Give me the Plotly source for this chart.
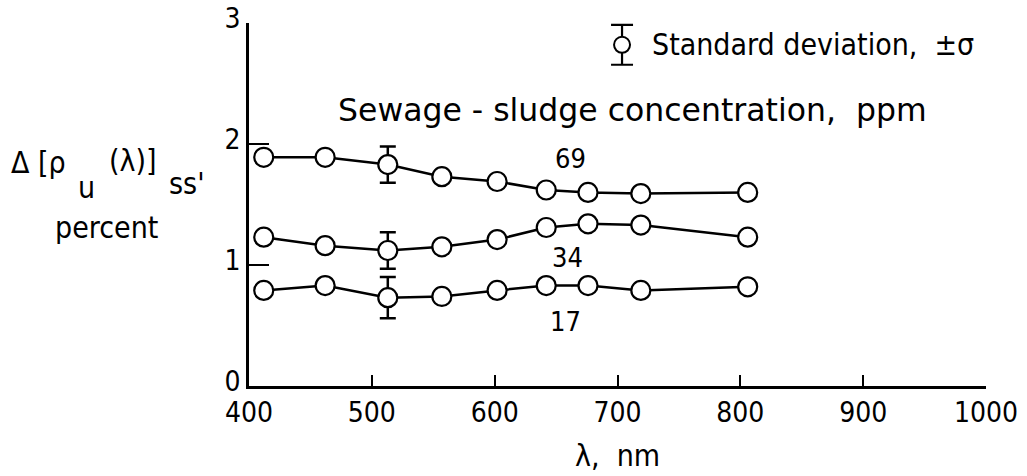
import plotly.graph_objects as go

# Wavelengths, nm
wavelength = [412, 462, 513, 557, 602, 642, 676, 719, 806]

# Change in upwelled reflectance, percent, per sewage-sludge concentration
refl_69 = [1.89, 1.89, 1.83, 1.73, 1.69, 1.62, 1.60, 1.59, 1.60]
refl_34 = [1.23, 1.16, 1.12, 1.15, 1.21, 1.31, 1.34, 1.33, 1.23]
refl_17 = [0.79, 0.83, 0.73, 0.74, 0.79, 0.83, 0.83, 0.79, 0.82]

# Standard deviation shown at 513 nm
sd_index = 2
sd_69 = 0.15
sd_34 = 0.15
sd_17 = 0.17

x_ticks = [400, 500, 600, 700, 800, 900, 1000]
y_ticks = [0, 1, 2, 3]

FONT = "DejaVu Sans Condensed, DejaVu Sans, sans-serif"
WIDE = "DejaVu Sans, sans-serif"
INK = "black"

W, H = 1027, 476
L, R, T, B = 249, 41, 23, 90

fig = go.Figure()


def add_series(values, sd):
    fig.add_trace(go.Scatter(
        x=wavelength, y=values, mode="lines",
        line=dict(color=INK, width=2.5), showlegend=False, hoverinfo="skip"))
    fig.add_trace(go.Scatter(
        x=[wavelength[sd_index]], y=[values[sd_index]], mode="markers",
        error_y=dict(type="data", array=[sd], visible=True,
                     color=INK, thickness=2.5, width=8),
        marker=dict(size=1, color=INK), showlegend=False, hoverinfo="skip"))
    fig.add_trace(go.Scatter(
        x=wavelength, y=values, mode="markers",
        marker=dict(symbol="circle", size=19, color="white",
                    line=dict(color=INK, width=2.2)),
        showlegend=False))


add_series(refl_69, sd_69)
add_series(refl_34, sd_34)
add_series(refl_17, sd_17)

# Key for the standard-deviation symbol
key_x, key_y, key_sd = 703.7, 2.82, 0.165
fig.add_trace(go.Scatter(
    x=[key_x], y=[key_y], mode="markers",
    error_y=dict(type="data", array=[key_sd], visible=True,
                 color=INK, thickness=2.2, width=11),
    marker=dict(symbol="circle", size=16, color="white",
                line=dict(color=INK, width=2)),
    showlegend=False, hoverinfo="skip"))

ann = []


def text(x, y, s, size=27, xanchor="left", family=FONT):
    ann.append(dict(x=x, y=y, xref="x", yref="y", text=s, showarrow=False,
                    xanchor=xanchor, yanchor="middle",
                    font=dict(family=family, size=size, color=INK)))


def ptext(px, py, s, size=30, xanchor="left", family=FONT):
    # paper coordinates span the plot area, so convert from figure pixels
    ann.append(dict(x=(px - L) / (W - L - R), y=(H - B - py) / (H - T - B),
                    xref="paper", yref="paper",
                    text=s, showarrow=False, xanchor=xanchor, yanchor="middle",
                    font=dict(family=family, size=size, color=INK)))


text(726.5, 2.82, "Standard deviation,  \u00b1\u03c3", size=30)
text(471.0, 2.28, "Sewage - sludge concentration,  ppm", size=31.5, family=WIDE)
text(661.4, 1.884, "69", xanchor="center")
text(659, 1.066, "34", xanchor="center")
text(658, 0.529, "17", xanchor="center")

# Y-axis title
ptext(9, 162, "\u0394 [\u03c1")
ptext(76, 187, "u")
ptext(107, 160, "(\u03bb)]")
ptext(167, 183, "ss'")
ptext(106, 227, "percent", xanchor="center")
# X-axis title
ptext(617, 455, "\u03bb,  nm", xanchor="center")

fig.update_layout(
    width=W, height=H,
    margin=dict(l=L, r=R, t=T, b=B, autoexpand=False),
    paper_bgcolor="white", plot_bgcolor="white",
    annotations=ann,
    font=dict(family=FONT, size=28, color=INK),
    xaxis=dict(
        range=[400, 1000], automargin=False,
        tickvals=x_ticks, ticktext=[str(v) for v in x_ticks],
        ticks="inside", ticklen=11, tickwidth=1.5, tickcolor=INK,
        showline=True, linecolor=INK, linewidth=2.5,
        showgrid=False, zeroline=False, fixedrange=True,
        tickfont=dict(family=FONT, size=28, color=INK)),
    yaxis=dict(
        range=[0, 3], automargin=False,
        tickvals=y_ticks, ticktext=[str(v) for v in y_ticks],
        ticks="inside", ticklen=20, tickwidth=1.5, tickcolor=INK,
        ticklabelshift=-5,
        showline=True, linecolor=INK, linewidth=2.5,
        showgrid=False, zeroline=False, fixedrange=True,
        tickfont=dict(family=FONT, size=28, color=INK)),
)

fig.write_html("out.html")
